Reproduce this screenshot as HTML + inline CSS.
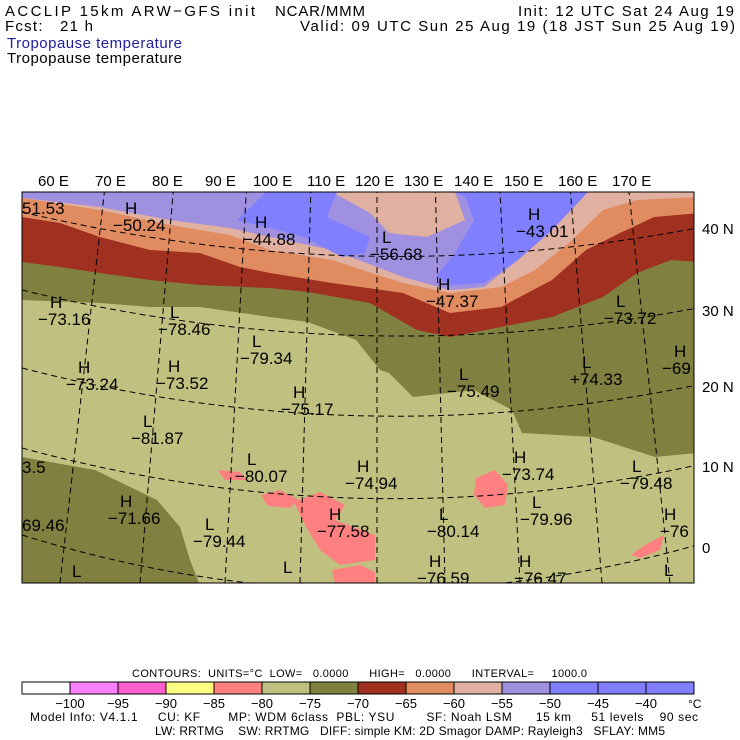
<!DOCTYPE html>
<html><head><meta charset="utf-8"><style>
body{margin:0;background:#fff;width:740px;height:740px;overflow:hidden}
svg{display:block;font-family:"Liberation Sans",sans-serif}
</style></head><body>
<svg id="c" width="740" height="740" viewBox="0 0 740 740">
<g font-size="15" fill="#000">
<text x="5" y="16" textLength="250">ACCLIP 15km ARW−GFS init</text>
<text x="275" y="16" textLength="90">NCAR/MMM</text>
<text x="518" y="16" textLength="216">Init: 12 UTC Sat 24 Aug 19</text>
<text x="5" y="31" textLength="88" xml:space="preserve">Fcst:   21 h</text>
<text x="300" y="31" textLength="435">Valid: 09 UTC Sun 25 Aug 19 (18 JST Sun 25 Aug 19)</text>
<text x="7" y="48" textLength="175" fill="#2020a0">Tropopause temperature</text>
<text x="7" y="63" textLength="175">Tropopause temperature</text>
</g>
<g id="lon" font-size="15"></g>
<g id="lat" font-size="15"></g>
<defs><clipPath id="mc"><rect x="22" y="192" width="672" height="391"/></clipPath></defs>
<g clip-path="url(#mc)">
<rect x="22" y="192" width="672" height="391" fill="#c0c080"/>
<polygon fill="#808040" points="22,192 700,192 697,453 655,457 593,437 522,433 512,410 474,390 413,397 389,373 380,370 356,340 308,322 270,317 200,307 150,307 100,303 22,300"/>
<polygon fill="#808040" points="22,457 95,470 157,500 180,527 190,560 199,583 22,583"/>
<polygon fill="#a03020" points="22,192 700,192 700,262 671,260 637,273 603,297 552,317 501,327 450,337 417,330 370,303 308,292 270,288 200,285 150,280 100,273 60,267 22,262"/>
<polygon fill="#e08c60" points="22,192 700,192 700,213 654,217 620,233 586,250 552,280 501,307 450,313 403,293 332,283 270,273 240,267 200,253 150,250 100,237 60,223 22,217"/>
<polygon fill="#e0b0a0" points="22,192 700,192 700,197 637,200 603,210 569,243 535,270 501,287 450,293 403,283 332,260 270,250 230,235 170,225 100,210 22,198"/>
<polygon fill="#a090e0" points="22,192 588,192 552,230 518,260 484,287 450,290 403,277 332,250 270,237 230,228 170,220 100,207 22,198"/>
<polygon fill="#e0b0a0" points="332,192 455,192 465,220 427,237 389,233 370,213"/>
<polygon fill="#8080ff" points="266,192 337,192 327,217 370,237 365,253 342,257 304,237 266,227 237,220"/>
<polygon fill="#8080ff" points="455,192 588,192 552,230 518,260 484,283 451,285 436,277 455,253 474,220 465,197"/>
<g fill="#ff8080">
<polygon points="261,495 280,490 299,500 290,508 268,506"/>
<polygon points="294,502 320,492 345,505 335,520 375,535 375,560 340,565 320,550 305,525"/>
<polygon points="332,570 360,565 375,572 375,583 335,583"/>
<polygon points="476,478 495,470 508,485 505,505 485,508 474,495"/>
<polygon points="631,555 645,545 664,535 660,550 640,558"/>
<polygon points="218,470 240,472 247,480 225,480"/>
</g>
<g id="grid" fill="none" stroke="#000" stroke-width="1" stroke-dasharray="6,4"></g>
<g id="labels" font-size="17" fill="#000"></g>
</g>
<rect x="22" y="192" width="672" height="391" fill="none" stroke="#000" stroke-width="1"/>
<text x="132" y="677" font-size="11" textLength="455" xml:space="preserve">CONTOURS:  UNITS=°C  LOW=   0.0000      HIGH=   0.0000      INTERVAL=     1000.0</text>
<g id="legend"></g>
<text x="30" y="721" font-size="12" textLength="668" xml:space="preserve">Model Info: V4.1.1     CU: KF       MP: WDM 6class  PBL: YSU        SF: Noah LSM      15 km     51 levels    90 sec</text>
<text x="155" y="735" font-size="12" textLength="510" xml:space="preserve">LW: RRTMG    SW: RRTMG   DIFF: simple KM: 2D Smagor DAMP: Rayleigh3   SFLAY: MM5</text>
</svg>
<script>
const NS='http://www.w3.org/2000/svg';
const lonLabels=['60 E','70 E','80 E','90 E','100 E','110 E','120 E','130 E','140 E','150 E','160 E','170 E'];
const latLabels=['40 N','30 N','20 N','10 N','0'];
const extremaTypes=['H','H','L','H','H','H','L','L','L','H','H','H','L','L','H','L','L','H','H','L','L','L','L','H','H','H'];
const extremaValues=['−50.24','−44.88','−56.68','−43.01','−47.37','−73.16','−78.46','−79.34','−73.72','−69','−73.24','−73.52','+74.33','−75.49','−75.17','−81.87','−80.07','−74.94','−73.74','−79.48','−79.96','−80.14','−79.44','−71.66','−77.58','−76.59'];
const legendLevels=['−100','−95','−90','−85','−80','−75','−70','−65','−60','−55','−50','−45','−40'];
const legendColors=['#ffffff','#ff80ff','#ff60d0','#ffff80','#ff8080','#c0c080','#808040','#a03020','#e08c60','#e0b0a0','#a090e0','#8080ff','#8080ff','#8080ff'];
// label anchor positions (layout, not data)
const lonX=[38,95,152,205,253,307,355,404,454,504,558,612];
const latY=[234,316,392,472,553];
const exPos=[[113,214],[243,228],[370,243],[516,220],[426,290],[38,308],[158,318],[240,347],[604,307],[662,357],[66,373],[156,372],[570,368],[447,380],[281,398],[131,427],[235,465],[345,472],[502,463],[620,472],[520,508],[427,520],[193,530],[108,507],[317,520],[417,567]];
const extra=[['51.53',22,214],['3.5',22,473],['69.46',22,531],['−76',660,537],['H',519,567],['−76.47',514,584],['L',72,577],['L',283,573],['L',664,576],['H',664,520]];
function mk(tag,attrs,parent){const e=document.createElementNS(NS,tag);for(const k in attrs)e.setAttribute(k,attrs[k]);parent.appendChild(e);return e;}
const lon=document.getElementById('lon');
lonLabels.forEach((t,i)=>{const e=mk('text',{x:lonX[i],y:186},lon);e.textContent=t;

});
const lat=document.getElementById('lat');
latLabels.forEach((t,i)=>{const e=mk('text',{x:702,y:latY[i]},lat);e.textContent=t;

});
const lab=document.getElementById('labels');
extremaTypes.forEach((t,i)=>{const [x,y]=exPos[i];
const h=mk('text',{x:x+12,y:y},lab);h.textContent=t;


const v=mk('text',{x:x,y:y+17},lab);v.textContent=extremaValues[i];

});
const grid=document.getElementById('grid');
['M22 535 Q 360 640 697 545','M22 448 Q 360 540 697 465','M22 368 Q 360 455 697 385','M22 290 Q 360 372 697 308','M22 212 Q 360 292 697 228'].forEach(d=>{const p=mk('path',{d:d},grid);

});
[60,140,225,300,377,445,520,602,670].forEach(b=>{const t=377+(b-377)*0.86;const p=mk('line',{x1:b,y1:583,x2:t,y2:192},grid);

});
const leg=document.getElementById('legend');
legendColors.forEach((c,i)=>{const r=mk('rect',{x:22+48*i,y:682,width:48,height:12,fill:c,stroke:'#000','stroke-width':1},leg);

});
legendLevels.forEach((t,i)=>{const e=mk('text',{x:70+48*i,y:708,'font-size':13,'text-anchor':'middle'},leg);e.textContent=t;

});
const u=mk('text',{x:688,y:708,'font-size':12},leg);u.textContent='°C';


extra.forEach(([t,x,y])=>{const e=mk('text',{x:x,y:y},lab);e.textContent=t;

});
</script>
</body></html>
